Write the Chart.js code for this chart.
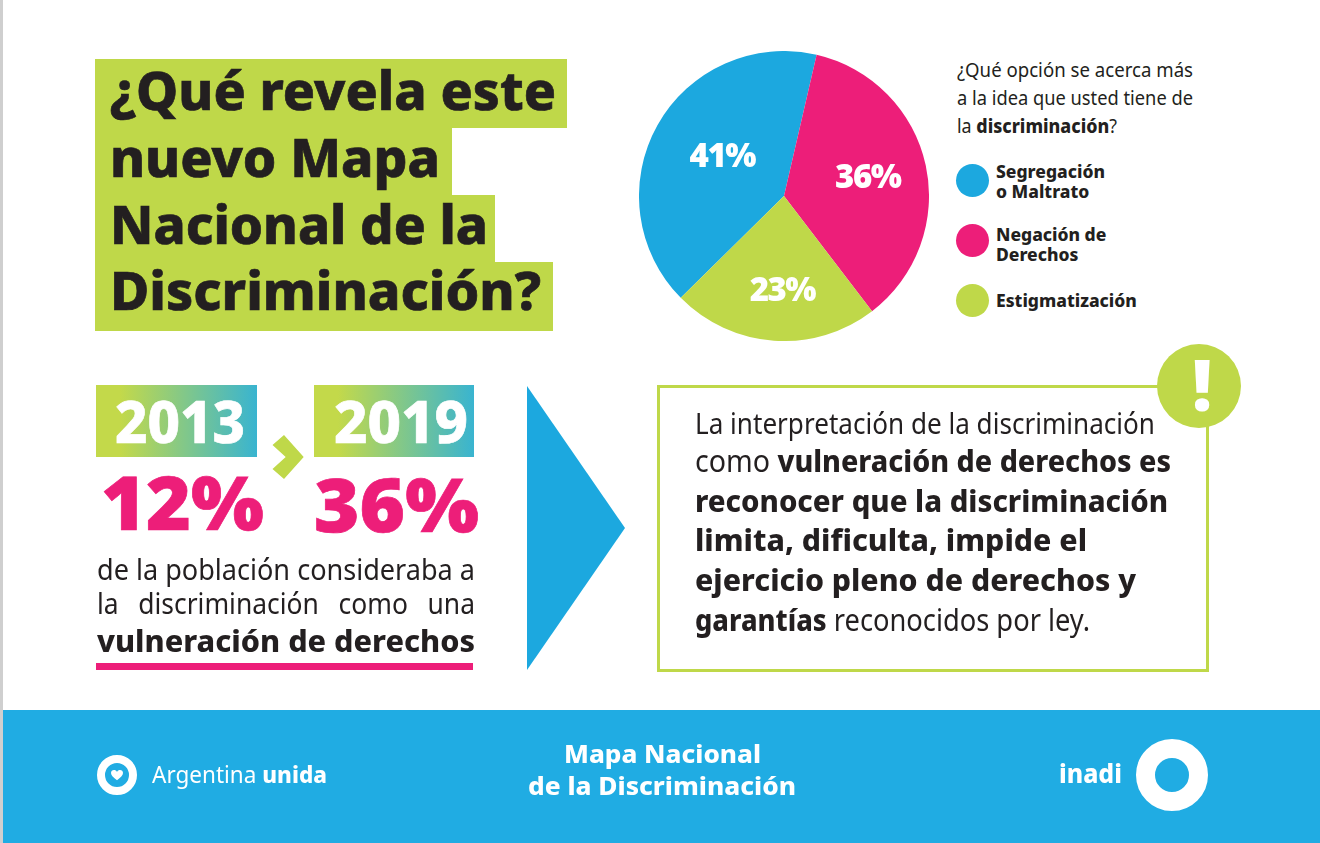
<!DOCTYPE html>
<html lang="es">
<head>
<meta charset="utf-8">
<title>Mapa Nacional de la Discriminación</title>
<script src="https://cdn.jsdelivr.net/npm/chart.js@4/dist/chart.umd.min.js"></script>
<style>
html,body{margin:0;padding:0;background:#fff}
#page{position:relative;width:1320px;height:843px;overflow:hidden;background:#fff;font-family:"Noto Sans",sans-serif;color:#231f20}
#page div,#page canvas,#page svg{position:absolute}
.t{white-space:nowrap;transform-origin:0 0;line-height:1}
.b{font-weight:800}
.hv{-webkit-text-stroke:.7px currentColor}
.w{color:#fff}
.g{background:#bfd849}
.grad{background:linear-gradient(90deg,#c3d94a 15%,#39b4d0 100%)}
.pink{color:#ed1e79;font-weight:900}
.sw{width:33px;height:33px;border-radius:50%}
</style>
</head>
<body>
<div id="page">
  <div style="left:0;top:0;width:3px;height:843px;background:#cfcfcf"></div>

  <!-- titulo -->
  <div class="g" style="left:95px;top:59px;width:472px;height:69px"></div>
  <div class="g" style="left:95px;top:128px;width:357px;height:67px"></div>
  <div class="g" style="left:95px;top:195px;width:400px;height:67px"></div>
  <div class="g" style="left:95px;top:262px;width:458px;height:69px"></div>
  <div class="t b hv" data-w="446" style="left:110px;top:62px;font-size:54px">¿Qué revela este</div>
  <div class="t b hv" data-w="330" style="left:110px;top:129px;font-size:54px">nuevo Mapa</div>
  <div class="t b hv" data-w="378" style="left:110px;top:196px;font-size:54px">Nacional de la</div>
  <div class="t b hv" data-w="431" style="left:110px;top:262px;font-size:54px">Discriminación?</div>

  <!-- torta -->
  <canvas id="pie" width="290" height="290" style="left:639px;top:51px;width:290px;height:290px"></canvas>

  <div class="t" data-w="236" style="left:957px;top:61px;font-size:19px">¿Qué opción se acerca más</div>
  <div class="t" data-w="236" style="left:957px;top:89px;font-size:19px">a la idea que usted tiene de</div>
  <div class="t" data-w="160" style="left:957px;top:117px;font-size:19px">la <span class="b">discriminación</span>?</div>
  <div id="legend"></div>

  <!-- 2013 / 2019 -->
  <div class="grad" style="left:96px;top:385px;width:161px;height:72px"></div>
  <div class="grad" style="left:314px;top:385px;width:160px;height:72px"></div>
  <div class="t b w hv" data-w="130" style="left:115px;top:391px;font-size:59px">2013</div>
  <div class="t b w hv" data-w="134" style="left:334px;top:391px;font-size:59px">2019</div>
  <svg style="left:0;top:0" width="1320" height="843">
    <polygon points="284,435 303.7,457 284,479 272.5,469 285.7,457 272.5,445" fill="#bfd849"/>
    <polygon points="527,386 625,528 527,670" fill="#1ca8df"/>
  </svg>
  <div class="t pink hv" data-w="163" style="left:101px;top:464px;font-size:75px">12%</div>
  <div class="t pink hv" data-w="165" style="left:314px;top:466px;font-size:75px">36%</div>
  <div class="t" data-w="378" style="left:97px;top:554px;font-size:29px">de la población consideraba a</div>
  <div class="t" data-w="378" style="left:97px;top:588px;font-size:29px;word-spacing:14px">la discriminación como una</div>
  <div class="t b" data-w="378" style="left:97px;top:626px;font-size:30px">vulneración de derechos</div>
  <div style="left:96px;top:663px;width:377px;height:7px;background:#ed1e79"></div>

  <!-- recuadro -->
  <div style="left:657px;top:385px;width:546px;height:281px;border:3px solid #bfd849"></div>
  <div style="left:1157px;top:344px;width:84px;height:84px;border-radius:50%;background:#bfd849"></div>
  <div class="t b w" style="left:1192px;top:349px;font-size:70px;font-weight:900">!</div>
  <div class="t" data-w="460" style="left:695px;top:408px;font-size:29px">La interpretación de la discriminación</div>
  <div class="t" data-w="476" style="left:695px;top:445px;font-size:31px">como <span class="b">vulneración de derechos es</span></div>
  <div class="t b" data-w="473" style="left:695px;top:485px;font-size:31px">reconocer que la discriminación</div>
  <div class="t b" data-w="392" style="left:695px;top:524px;font-size:31px">limita, dificulta, impide el</div>
  <div class="t b" data-w="441" style="left:695px;top:564px;font-size:31px">ejercicio pleno de derechos y</div>
  <div class="t" data-w="395" style="left:695px;top:604px;font-size:31px"><span class="b">garantías</span> reconocidos por ley.</div>

  <!-- pie de pagina -->
  <div style="left:3px;top:710px;width:1317px;height:133px;background:#20ace3"></div>
  <div style="left:97px;top:755px;width:24px;height:24px;border:8px solid #fff;border-radius:50%"></div>
  <svg style="left:111px;top:770px" width="12" height="11" viewBox="0 0 20 18">
    <path d="M10 17 C4 12 0 9 0 5 C0 2 2 0 5 0 C7 0 9 1 10 3 C11 1 13 0 15 0 C18 0 20 2 20 5 C20 9 16 12 10 17 Z" fill="#fff"/>
  </svg>
  <div class="t w" data-w="175" style="left:152px;top:763px;font-size:23px">Argentina <span class="b">unida</span></div>
  <div class="t b w" data-w="197" style="left:564px;top:741px;font-size:25px">Mapa Nacional</div>
  <div class="t b w" data-w="268" style="left:528px;top:773px;font-size:25px">de la Discriminación</div>
  <div class="t b w" data-w="63" style="left:1059px;top:760px;font-size:26px">inadi</div>
  <div style="left:1136px;top:739px;width:34px;height:34px;border:19px solid #fff;border-radius:50%"></div>
</div>

<script>
// datos de la torta
var categorias = ['Segregación o Maltrato', 'Negación de Derechos', 'Estigmatización'];
var valores = [41, 36, 23];
var colores = ['#1ca8df', '#ed1e79', '#bfd849'];

// lineas del legend
var leyendaLineas = [['Segregación', 'o Maltrato'], ['Negación de', 'Derechos'], ['Estigmatización']];

// ajuste fino de los rotulos respecto al centro de cada porcion
var rotuloRadio = [74, 86, 94];
var rotuloAngulo = [303.5, 77, 181];

// rotulos de porcentaje dentro de la torta
const rotulosPlugin = {
    id: 'rotulos',
    afterDatasetsDraw(chart) {
        const ctx = chart.ctx;
        const arc = chart.getDatasetMeta(0).data[0];
        ctx.save();
        ctx.fillStyle = '#fff';
        ctx.font = '900 33px "Noto Sans"';
        ctx.letterSpacing = '-1.5px';
        ctx.textAlign = 'center';
        ctx.textBaseline = 'middle';
        valores.forEach(function (v, i) {
            const a = rotuloAngulo[i] * Math.PI / 180;
            ctx.fillText(v + '%', arc.x + rotuloRadio[i] * Math.sin(a), arc.y - rotuloRadio[i] * Math.cos(a) + 2);
        });
        ctx.restore();
    }
};

new Chart(document.getElementById('pie').getContext('2d'), {
    type: 'pie',
    data: {
        labels: categorias,
        datasets: [{ data: valores, backgroundColor: colores, borderWidth: 0 }]
    },
    options: {
        responsive: false,
        animation: false,
        rotation: 225.4,
        layout: { padding: 0 },
        plugins: { legend: { display: false }, tooltip: { enabled: false } }
    },
    plugins: [rotulosPlugin]
});

// legend a mano, con las mismas categorias
var legend = document.getElementById('legend');
var legendTops = [164, 224, 284];
var legendDy = [-1, 2, -2];
var html = '';
for (var i = 0; i < categorias.length; i++) {
    html += "<div class='sw' style='left:956px;top:" + legendTops[i] + "px;background:" + colores[i] + "'></div>";
    var lineas = leyendaLineas[i];
    var y = legendTops[i] + 18 - 10 * lineas.length + legendDy[i];
    html += "<div class='t b' style='left:996px;top:" + y + "px;font-size:17.5px;line-height:20px'>" + lineas.join('<br>') + "</div>";
}
legend.innerHTML = html;

// cada linea se ajusta al ancho que tiene en el original
document.querySelectorAll('.t[data-w]').forEach(function (el) {
    var ancho = el.getBoundingClientRect().width;
    el.style.transform = 'scaleX(' + (parseFloat(el.dataset.w) / ancho) + ')';
});
</script>
</body>
</html>
